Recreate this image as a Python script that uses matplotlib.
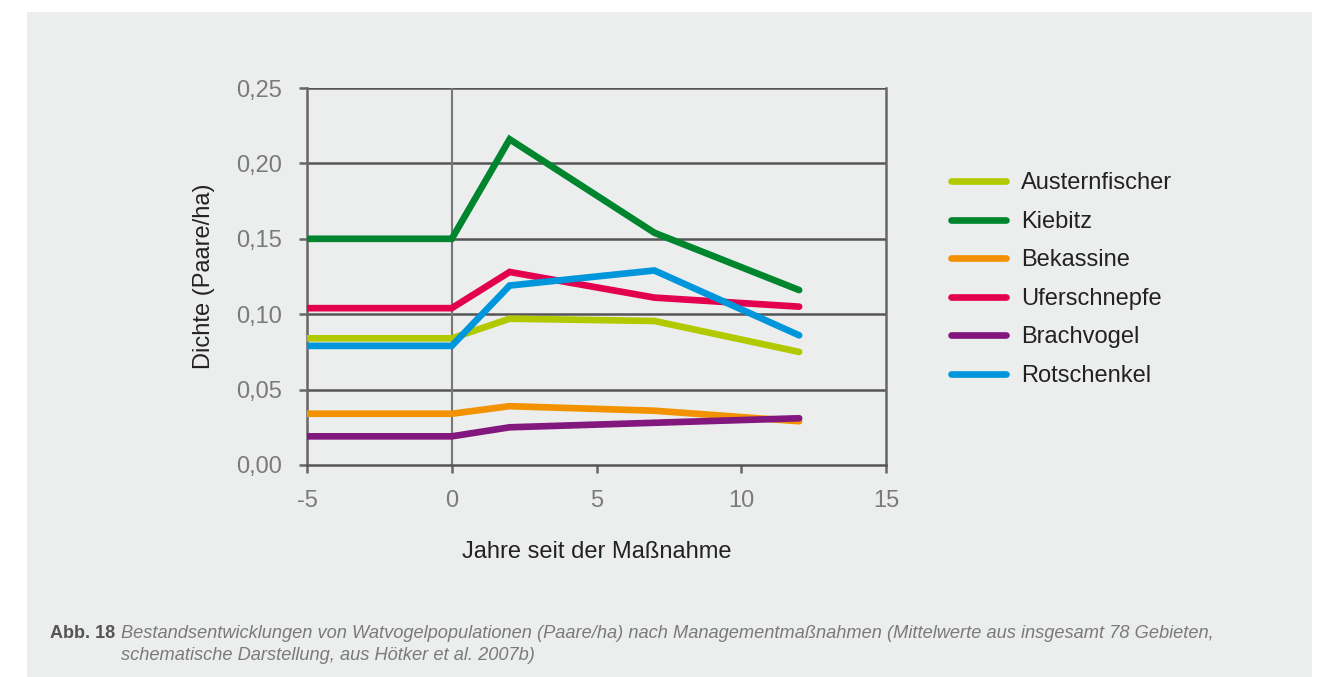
import matplotlib
matplotlib.use("Agg")
import matplotlib.pyplot as plt
from matplotlib.patches import Rectangle
from matplotlib.ticker import FuncFormatter

plt.rcParams['font.family'] = ['Liberation Sans', 'DejaVu Sans']

# data
years = [-5, 0, 2, 7, 12]
species = ["Austernfischer", "Kiebitz", "Bekassine", "Uferschnepfe", "Brachvogel", "Rotschenkel"]
austernfischer = [0.084, 0.084, 0.097, 0.0955, 0.075]
kiebitz = [0.150, 0.150, 0.216, 0.154, 0.116]
bekassine = [0.034, 0.034, 0.039, 0.036, 0.029]
uferschnepfe = [0.104, 0.104, 0.128, 0.111, 0.105]
brachvogel = [0.019, 0.019, 0.025, 0.028, 0.031]
rotschenkel = [0.079, 0.079, 0.119, 0.129, 0.086]
colors = ["#b2c900", "#00852f", "#f39200", "#e3004f", "#82187e", "#0096db"]

series = [austernfischer, kiebitz, bekassine, uferschnepfe, brachvogel, rotschenkel]

bg = "#eceeed"
fig = plt.figure(figsize=(13.22, 6.77), dpi=100)
fig.patch.set_facecolor("white")
panel = Rectangle((27 / 1322, 0), (1312 - 27) / 1322, 1 - 12 / 677,
                  transform=fig.transFigure, facecolor=bg, edgecolor="none", zorder=-10)
fig.add_artist(panel)

ax = fig.add_axes([307 / 1322, 1 - 465 / 677, (886 - 307) / 1322, (465 - 88) / 677])
ax.set_facecolor(bg)

for y in [0.05, 0.10, 0.15, 0.20, 0.25]:
    ax.axhline(y, color="#555555", lw=1.8, zorder=1)
ax.axvline(0, color="#777777", lw=1.5, zorder=1)

for name, vals, c in zip(species, series, colors):
    ax.plot(years, vals, color=c, lw=4.8, solid_capstyle="round", solid_joinstyle="miter",
            label=name, zorder=3)

ax.set_xlim(-5, 15)
ax.set_ylim(0, 0.25)
ax.set_xticks([-5, 0, 5, 10, 15])
ax.set_yticks([0, 0.05, 0.10, 0.15, 0.20, 0.25])
ax.yaxis.set_major_formatter(FuncFormatter(lambda v, p: f"{v:.2f}".replace(".", ",")))
ax.xaxis.set_major_formatter(FuncFormatter(lambda v, p: f"{v:.0f}"))

for side in ["left", "bottom", "right"]:
    ax.spines[side].set_color("#666666")
    ax.spines[side].set_linewidth(1.8)
ax.spines["top"].set_visible(False)
ax.spines["bottom"].set_color("#555555")

ax.tick_params(axis="both", colors="#666666", labelcolor="#7a7a7a", labelsize=17,
               width=1.8, length=6, direction="out")
ax.tick_params(axis="y", pad=12)
ax.tick_params(axis="x", pad=12)

ax.set_xlabel("Jahre seit der Maßnahme", fontsize=17, color="#222222", labelpad=21)
ax.set_ylabel("Dichte (Paare/ha)", fontsize=17, color="#222222", labelpad=15)

leg = ax.legend(loc="upper left", bbox_to_anchor=(930 / 1322, 1 - 151 / 677),
                bbox_transform=fig.transFigure, frameon=False, fontsize=17,
                handlelength=2.3, handletextpad=0.65, labelspacing=0.7)
for t in leg.get_texts():
    t.set_color("#222222")

fig.text(50 / 1322, 1 - 633 / 677, "Abb. 18", fontsize=13, fontweight="bold",
         color="#555555", va="center")
fig.text(121 / 1322, 1 - 633 / 677,
         "Bestandsentwicklungen von Watvogelpopulationen (Paare/ha) nach Managementmaßnahmen "
         "(Mittelwerte aus insgesamt 78 Gebieten,",
         fontsize=13.15, style="italic", color="#7a7a7a", va="center")
fig.text(121 / 1322, 1 - 655 / 677, "schematische Darstellung, aus Hötker et al. 2007b)",
         fontsize=13.15, style="italic", color="#7a7a7a", va="center")

fig.savefig("out.png", dpi=100, facecolor=fig.get_facecolor())
